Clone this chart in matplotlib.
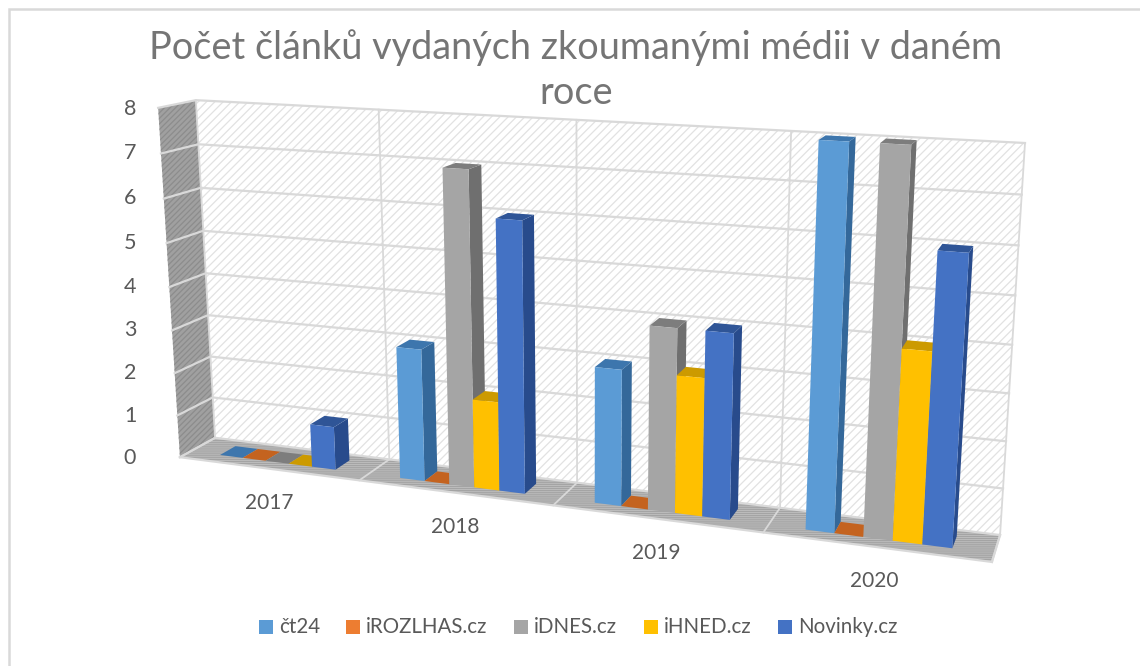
import numpy as np
import matplotlib
matplotlib.use('Agg')
import matplotlib.pyplot as plt
from matplotlib.patches import Polygon, Rectangle

# ========== DATA ==========

years = ['2017', '2018', '2019', '2020']
ct24 = [0, 3, 3, 8]
irozlhas = [0, 0, 0, 0]
idnes = [0, 7, 4, 8]
ihned = [0, 2, 3, 4]
novinky = [1, 6, 4, 6]
series_names = ['čt24', 'iROZLHAS.cz', 'iDNES.cz', 'iHNED.cz', 'Novinky.cz']
series_values = [ct24, irozlhas, idnes, ihned, novinky]
y_ticks = [0, 1, 2, 3, 4, 5, 6, 7, 8]

title_text = 'Počet článků vydaných zkoumanými médii v daném\nroce'

# front, side, top colour of each series
front_cols = ['#5b9bd5', '#ed7d31', '#a5a5a5', '#ffc000', '#4472c4']
side_cols = ['#34689a', '#b25a1e', '#6f6f6f', '#bd8e00', '#284b8c']
top_cols = ['#3d76ad', '#c4631f', '#7d7d7d', '#cc9a00', '#2f5597']

# ========== PROJECTION ==========
# (category, depth, value) -> picture pixels, calibrated on the chart box corners

calib = [
    ((0, 0, 0), (180, 457)),
    ((0, 1, 0), (215, 438)),
    ((4, 1, 0), (1000, 535)),
    ((4, 0, 0), (992, 562)),
    ((0, 1, 8), (196, 100)),
    ((4, 1, 8), (1025, 143)),
    ((0, 0, 8), (158, 108)),
]

def fit_camera(pairs):
    rows, rhs = [], []
    for (u, v, w), (px, py) in pairs:
        rows.append([u, v, w, 1, 0, 0, 0, 0, -px * u, -px * v, -px * w])
        rhs.append(px)
        rows.append([0, 0, 0, 0, u, v, w, 1, -py * u, -py * v, -py * w])
        rhs.append(py)
    p = np.linalg.lstsq(np.array(rows, float), np.array(rhs, float), rcond=None)[0]
    return np.append(p, 1).reshape(3, 4)

camera = fit_camera(calib)

def proj(u, v, w):
    h = camera @ np.array([u, v, w, 1.0])
    return h[0] / h[2], h[1] / h[2]

def quad(ax, pts, **kw):
    ax.add_patch(Polygon([proj(*p) for p in pts], closed=True, **kw))

# ========== PLOT ==========

plt.rcParams['hatch.linewidth'] = 0.9
W, H = 1140, 666
fig = plt.figure(figsize=(W / 100, H / 100), dpi=100)
ax = fig.add_axes([0, 0, 1, 1])
ax.set_xlim(0, W)
ax.set_ylim(H, 0)
ax.axis('off')
font = ['Lato', 'DejaVu Sans']
grey_text = '#595959'
grid_col = '#d9d9d9'

# frame: only the top and left edges show in the picture
ax.plot([9, 9, W], [H, 9, 9], color='#d9d9d9', lw=1.8, solid_joinstyle='miter')

# walls and floor
quad(ax, [(0, 1, 0), (4, 1, 0), (4, 1, 8), (0, 1, 8)], fc='white', ec='#e2e2e2', hatch='////', lw=0)
quad(ax, [(0, 0, 0), (0, 1, 0), (0, 1, 8), (0, 0, 8)], fc='#a0a0a0', ec='#8c8c8c', hatch='//////', lw=0)
quad(ax, [(0, 0, 0), (4, 0, 0), (4, 1, 0), (0, 1, 0)], fc='#c0c0c0', ec='#a4a4a4', hatch='--------', lw=0)

# grid lines
for t in y_ticks:
    x0, y0 = proj(0, 0, t)
    x1, y1 = proj(0, 1, t)
    x2, y2 = proj(4, 1, t)
    ax.plot([x0, x1, x2], [y0, y1, y2], color=grid_col, lw=1.6, solid_joinstyle='miter')
for c in range(len(years) + 1):
    x0, y0 = proj(c, 0, 0)
    x1, y1 = proj(c, 1, 0)
    x2, y2 = proj(c, 1, 8)
    ax.plot([x0, x1, x2], [y0, y1, y2], color=grid_col, lw=1.3)
x0, y0 = proj(0, 0, 0)
x1, y1 = proj(4, 0, 0)
ax.plot([x0, x1], [y0, y1], color=grid_col, lw=1.6)
x2, y2 = proj(4, 1, 0)
ax.plot([x1, x2], [y1, y2], color=grid_col, lw=1.6)

# bars
bar_w = 0.13
gap = 0.17
d0, d1 = 0.3, 0.75
for c in range(len(years)):
    for s in range(len(series_names)):
        val = series_values[s][c]
        u0 = c + gap + s * bar_w
        u1 = u0 + bar_w
        z = 10 + c * 10 + s
        if val > 0:
            quad(ax, [(u1, d0, 0), (u1, d1, 0), (u1, d1, val), (u1, d0, val)],
                 fc=side_cols[s], ec='none', zorder=z)
        quad(ax, [(u0, d0, val), (u1, d0, val), (u1, d1, val), (u0, d1, val)],
             fc=top_cols[s], ec='none', zorder=z)
        if val > 0:
            quad(ax, [(u0, d0, 0), (u1, d0, 0), (u1, d0, val), (u0, d0, val)],
                 fc=front_cols[s], ec='none', zorder=z + 0.5)

# tick labels
y_tick_px = [458, 416, 373, 330, 287, 243, 198, 153, 109]
for t, py in zip(y_ticks, y_tick_px):
    ax.text(130, py, str(t), ha='center', va='center', fontsize=15.5, color=grey_text, family=font)
year_px = [(269, 503), (455, 527), (656, 553), (874, 581)]
for lab, (px, py) in zip(years, year_px):
    ax.text(px, py, lab, ha='center', va='center', fontsize=15, color=grey_text, family=font)

# title
ax.text(576, 70, title_text, ha='center', va='center', fontsize=27.3, color='#757575',
        family=font, linespacing=1.33)

# legend
leg_x = [259, 346, 514, 644, 778]
for s, name in enumerate(series_names):
    ax.add_patch(Rectangle((leg_x[s], 620), 14, 14, fc=front_cols[s], ec='none'))
    ax.text(leg_x[s] + 20, 627, name, ha='left', va='center', fontsize=14.8, color=grey_text, family=font)

fig.savefig('out.png', dpi=100)
